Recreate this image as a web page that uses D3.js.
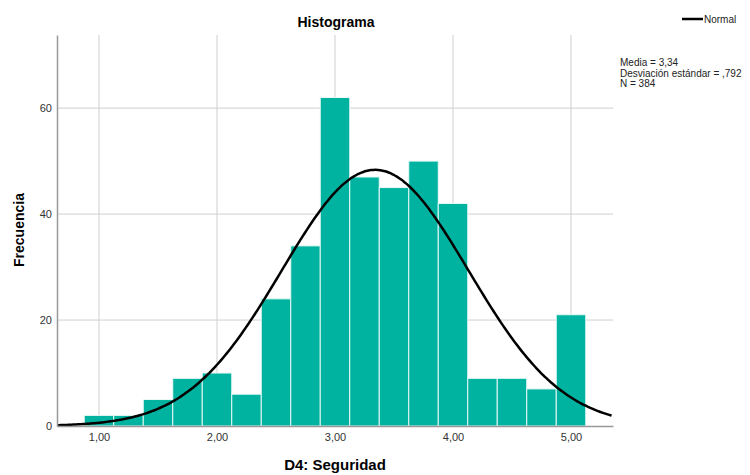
<!DOCTYPE html>
<html>
<head>
<meta charset="utf-8">
<script src="https://cdn.jsdelivr.net/npm/d3@7"></script>
<style>
  body { margin: 0; background: #fff; }
  text { font-family: Arial, "Liberation Sans", sans-serif; }
</style>
</head>
<body>
<svg id="chart" width="750" height="475"></svg>
<script>
// bins are 0.25 wide, centred on 1,00 ... 5,00
const binCenters = [1, 1.25, 1.5, 1.75, 2, 2.25, 2.5, 2.75, 3, 3.25, 3.5, 3.75, 4, 4.25, 4.5, 4.75, 5];
const counts = [2, 2, 5, 9, 10, 6, 24, 34, 62, 47, 45, 50, 42, 9, 9, 7, 21];
const xTicks = [1, 2, 3, 4, 5];
const yTicks = [0, 20, 40, 60];
const stats = { mean: 3.34, sd: 0.792, n: 384, binWidth: 0.25 };
const statLines = ["Media = 3,34", "Desviación estándar = ,792", "N = 384"];

const svg = d3.select("#chart");
const margin = {top: 35, left: 57, right: 137, bottom: 49},
      width = 750 - margin.left - margin.right,
      height = 475 - margin.top - margin.bottom;

const x = d3.scaleLinear().domain([0.644, 5.356]).range([0, width]);
const y = d3.scaleLinear().domain([0, 73.8]).range([height, 0]);

const g = svg.append("g")
    .attr("transform", "translate(" + margin.left + "," + margin.top + ")");

// grid
g.append("g").selectAll("line")
  .data(xTicks).enter().append("line")
    .attr("x1", d => x(d)).attr("x2", d => x(d))
    .attr("y1", 0).attr("y2", height)
    .attr("stroke", "#cfcfcf");
g.append("g").selectAll("line")
  .data(yTicks.slice(1)).enter().append("line")
    .attr("x1", 0).attr("x2", width)
    .attr("y1", d => y(d)).attr("y2", d => y(d))
    .attr("stroke", "#cfcfcf");

// bars
g.selectAll(".bar")
  .data(binCenters)
  .enter().append("rect")
    .attr("class", "bar")
    .attr("x", d => x(d - stats.binWidth / 2))
    .attr("width", x(stats.binWidth) - x(0))
    .attr("y", (d, i) => y(counts[i]))
    .attr("height", (d, i) => height - y(counts[i]))
    .attr("fill", "#00b3a0")
    .attr("stroke", "#e8f8f5")
    .attr("stroke-width", 1);

// normal curve from stated mean / sd
const curveX = d3.range(x.domain()[0], x.domain()[1] + 0.001, 0.02);
const normal = v => stats.n * stats.binWidth / (stats.sd * Math.sqrt(2 * Math.PI)) *
    Math.exp(-0.5 * Math.pow((v - stats.mean) / stats.sd, 2));
g.append("path")
  .datum(curveX)
  .attr("fill", "none")
  .attr("stroke", "#000")
  .attr("stroke-width", 2.5)
  .attr("d", d3.line().x(d => x(d)).y(d => y(normal(d))).curve(d3.curveBasis));

// axes
const axisX = g.append("g")
    .attr("transform", "translate(0," + height + ")")
    .call(d3.axisBottom(x).tickValues(xTicks).tickSize(0).tickPadding(7)
      .tickFormat(d => d3.format(".2f")(d).replace(".", ",")));
axisX.select(".domain").attr("stroke", "#999").attr("stroke-width", 1.5);
axisX.selectAll("text").attr("font-size", 11).attr("fill", "#333");

const axisY = g.append("g")
    .call(d3.axisLeft(y).tickValues(yTicks).tickSize(0).tickPadding(5));
axisY.select(".domain").attr("stroke", "#999").attr("stroke-width", 1.5);
axisY.selectAll("text").attr("font-size", 11).attr("fill", "#333");

// titles
svg.append("text")
  .attr("x", 336).attr("y", 27)
  .attr("text-anchor", "middle")
  .attr("font-size", 14).attr("font-weight", "bold")
  .text("Histograma");
svg.append("text")
  .attr("x", 335).attr("y", 470)
  .attr("text-anchor", "middle")
  .attr("font-size", 15).attr("font-weight", "bold")
  .text("D4: Seguridad");
svg.append("text")
  .attr("transform", "translate(24,230) rotate(-90)")
  .attr("text-anchor", "middle")
  .attr("font-size", 14).attr("font-weight", "bold")
  .text("Frecuencia");

// legend
svg.append("line")
  .attr("x1", 682).attr("x2", 703).attr("y1", 19).attr("y2", 19)
  .attr("stroke", "#000").attr("stroke-width", 2.5);
svg.append("text")
  .attr("x", 704).attr("y", 23)
  .attr("font-size", 10).attr("fill", "#222")
  .text("Normal");

svg.append("g").selectAll("text")
  .data(statLines).enter().append("text")
    .attr("x", 620).attr("y", (d, i) => 66 + i * 10.5)
    .attr("font-size", 10).attr("fill", "#222")
    .text(d => d);
</script>
</body>
</html>
